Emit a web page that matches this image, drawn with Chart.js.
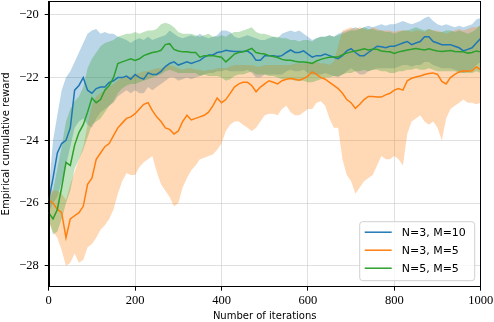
<!DOCTYPE html>
<html><head><meta charset="utf-8">
<script src="https://cdn.jsdelivr.net/npm/chart.js@4/dist/chart.umd.min.js"></script>
<style>html,body{margin:0;padding:0;background:#fff}#wrap{width:494px;height:322px;position:relative}</style>
</head><body><div id="wrap"><canvas id="c" width="494" height="322"></canvas></div>
<script>
const iterations = [0,10,20,30,40,50,60,70,80,90,100,110,120,130,140,150,160,170,180,190,200,210,220,230,240,250,260,270,280,290,300,310,320,330,340,350,360,370,380,390,400,410,420,430,440,450,460,470,480,490,500,510,520,530,540,550,560,570,580,590,600,610,620,630,640,650,660,670,680,690,700,710,720,730,740,750,760,770,780,790,800,810,820,830,840,850,860,870,880,890,900,910,920,930,940,950,960,970,980,990,1000];
const xTicks = [0,200,400,600,800,1000];
const yTicks = [-28,-26,-24,-22,-20];
const seriesNames = ["N=3, M=10","N=3, M=5","N=5, M=5"];

const blueMean = [-25.9,-25.2,-24.4,-24.1,-24.0,-23.6,-22.4,-22.25,-22.0,-22.4,
 -22.5,-22.35,-22.3,-22.3,-22.15,-22.1,-22.0,-22.0,-21.95,-22.05,
 -21.9,-22.0,-22.05,-21.85,-21.9,-21.9,-21.8,-21.65,-21.55,-21.5,
 -21.6,-21.55,-21.5,-21.55,-21.5,-21.45,-21.35,-21.28,-21.28,-21.2,
 -21.18,-21.13,-21.15,-21.17,-21.17,-21.17,-21.15,-21.25,-21.45,-21.45,
 -21.3,-21.3,-21.3,-21.33,-21.3,-21.2,-21.12,-21.2,-21.2,-21.15,
 -21.25,-21.35,-21.3,-21.3,-21.25,-21.3,-21.35,-21.4,-21.3,-21.15,
 -21.08,-21.2,-21.3,-21.3,-21.2,-21.1,-21.0,-21.02,-21.05,-21.0,
 -21.0,-20.95,-20.9,-20.85,-20.95,-20.9,-20.85,-20.7,-20.7,-20.85,
 -20.9,-20.95,-20.95,-20.95,-21.0,-21.05,-21.15,-21.1,-21.05,-20.9,
 -20.75];
const blueUpper = [-25.6,-24.0,-23.2,-22.4,-22.0,-21.8,-21.5,-21.2,-20.9,-20.6,
 -20.5,-20.45,-20.6,-20.55,-20.6,-20.6,-20.7,-20.75,-20.8,-20.9,
 -20.8,-20.75,-20.8,-20.7,-20.8,-20.75,-20.7,-20.65,-20.5,-20.6,
 -20.7,-20.75,-20.7,-20.65,-20.7,-20.6,-20.7,-20.75,-20.7,-20.65,
 -20.5,-20.5,-20.55,-20.7,-20.75,-20.7,-20.65,-20.7,-20.75,-20.8,
 -20.8,-20.75,-20.7,-20.75,-20.6,-20.55,-20.5,-20.55,-20.5,-20.6,
 -20.7,-20.8,-20.75,-20.7,-20.7,-20.65,-20.7,-20.6,-20.55,-20.5,
 -20.45,-20.4,-20.45,-20.4,-20.35,-20.4,-20.35,-20.3,-20.35,-20.3,
 -20.3,-20.25,-20.2,-20.25,-20.3,-20.25,-20.2,-20.1,-20.05,-20.2,
 -20.3,-20.35,-20.3,-20.35,-20.4,-20.35,-20.4,-20.35,-20.3,-20.15,
 -20.1];
const blueLower = [-26.3,-26.0,-25.8,-25.3,-24.8,-24.2,-23.6,-23.4,-23.3,-23.5,
 -23.6,-23.3,-23.1,-23.0,-22.9,-22.8,-22.6,-22.5,-22.4,-22.5,
 -22.4,-22.5,-22.5,-22.3,-22.4,-22.3,-22.2,-22.1,-22.0,-22.0,
 -22.1,-22.05,-22.0,-22.05,-22.0,-21.95,-21.9,-21.85,-21.85,-21.8,
 -21.8,-21.75,-21.8,-21.8,-21.8,-21.8,-21.75,-21.85,-22.0,-22.0,
 -21.9,-21.9,-21.9,-21.9,-21.9,-21.8,-21.75,-21.8,-21.8,-21.75,
 -21.85,-21.9,-21.9,-21.9,-21.85,-21.9,-21.95,-22.0,-21.9,-21.8,
 -21.7,-21.8,-21.9,-21.9,-21.8,-21.75,-21.7,-21.7,-21.7,-21.7,
 -21.7,-21.65,-21.6,-21.6,-21.65,-21.6,-21.6,-21.5,-21.5,-21.6,
 -21.65,-21.7,-21.7,-21.7,-21.75,-21.8,-21.85,-21.8,-21.75,-21.6,
 -21.5];

const orangeMean = [-25.9,-26.0,-26.2,-26.3,-27.1,-26.5,-26.4,-26.3,-26.1,-25.4,
 -25.2,-24.6,-24.4,-24.2,-24.1,-23.85,-23.6,-23.45,-23.3,-23.25,
 -23.15,-23.0,-22.85,-22.8,-23.05,-23.25,-23.4,-23.6,-23.65,-23.8,
 -23.7,-23.4,-23.2,-23.35,-23.3,-23.25,-23.2,-23.1,-22.9,-22.65,
 -22.8,-22.7,-22.5,-22.3,-22.2,-22.15,-22.15,-22.25,-22.45,-22.3,
 -22.2,-22.1,-22.15,-22.2,-22.1,-22.05,-22.03,-22.05,-22.08,-22.03,
 -21.95,-21.82,-21.9,-22.0,-22.05,-22.15,-22.25,-22.35,-22.5,-22.7,
 -22.8,-22.98,-22.85,-22.7,-22.6,-22.6,-22.62,-22.62,-22.55,-22.5,
 -22.4,-22.35,-22.4,-22.1,-22.02,-21.98,-21.95,-21.9,-21.87,-21.85,
 -21.9,-22.12,-22.2,-22.0,-21.9,-21.82,-21.78,-21.8,-21.78,-21.66,
 -21.75];
const orangeUpper = [-25.5,-25.6,-25.6,-25.7,-25.9,-25.4,-25.0,-24.6,-24.2,-23.5,
 -22.9,-22.6,-22.5,-22.4,-22.3,-22.2,-22.1,-22.0,-22.0,-21.95,
 -21.9,-21.85,-21.8,-21.8,-21.75,-21.7,-21.7,-21.65,-21.6,-21.65,
 -21.7,-21.75,-21.7,-21.7,-21.75,-21.75,-21.8,-21.75,-21.75,-21.7,
 -21.7,-21.7,-21.65,-21.6,-21.6,-21.6,-21.6,-21.6,-21.65,-21.65,
 -21.6,-21.6,-21.6,-21.6,-21.6,-21.6,-21.6,-21.55,-21.55,-21.55,
 -21.5,-21.5,-21.5,-21.55,-21.55,-21.6,-21.5,-21.0,-20.5,-20.45,
 -20.4,-20.45,-20.4,-20.45,-20.5,-20.4,-20.45,-20.5,-20.5,-20.5,
 -20.55,-20.5,-20.5,-20.5,-20.55,-20.5,-20.5,-20.55,-20.45,-20.5,
 -20.5,-20.55,-20.6,-20.55,-20.5,-20.45,-20.5,-20.45,-20.4,-20.4,
 -20.35];
const orangeLower = [-26.6,-26.9,-27.1,-27.5,-28.0,-27.9,-27.6,-27.9,-27.8,-27.4,
 -27.3,-27.1,-26.85,-26.7,-26.5,-26.2,-25.7,-25.3,-25.05,-25.1,
 -25.1,-24.85,-24.7,-24.6,-24.5,-25.0,-25.4,-25.6,-25.8,-26.1,
 -26.0,-25.5,-25.2,-24.95,-24.8,-24.6,-24.55,-24.5,-24.45,-24.3,
 -24.1,-23.7,-23.5,-23.4,-23.4,-23.5,-23.6,-23.7,-23.6,-23.4,
 -23.2,-23.15,-23.15,-23.2,-23.0,-22.9,-23.1,-23.2,-23.2,-23.1,
 -23.0,-23.0,-22.8,-22.75,-22.9,-23.3,-23.6,-23.6,-24.6,-25.1,
 -25.3,-25.7,-25.5,-25.3,-25.2,-25.1,-24.8,-24.5,-24.6,-24.6,
 -24.5,-24.6,-24.8,-23.8,-23.4,-23.3,-23.2,-23.4,-23.5,-23.4,
 -23.6,-24.0,-23.3,-23.0,-22.9,-22.8,-22.7,-22.8,-22.8,-22.85,
 -22.8];

const greenMean = [-26.3,-26.5,-26.2,-25.5,-24.7,-24.8,-24.15,-23.75,-23.5,-23.1,
 -22.65,-22.8,-22.7,-22.4,-22.25,-22.0,-21.55,-21.5,-21.45,-21.4,
 -21.45,-21.4,-21.3,-21.25,-21.2,-21.18,-21.13,-20.95,-20.92,-21.1,
 -21.15,-21.18,-21.18,-21.2,-21.2,-21.35,-21.3,-21.3,-21.3,-21.33,
 -21.35,-21.5,-21.38,-21.25,-21.2,-21.18,-21.13,-21.07,-21.2,-21.23,
 -21.25,-21.3,-21.33,-21.36,-21.42,-21.45,-21.45,-21.48,-21.5,-21.5,
 -21.52,-21.55,-21.47,-21.42,-21.38,-21.35,-21.34,-21.34,-21.27,-21.22,
 -21.18,-21.15,-21.12,-21.08,-21.12,-21.1,-21.1,-21.15,-21.17,-21.18,
 -21.23,-21.18,-21.15,-21.12,-21.1,-21.07,-21.1,-21.12,-21.08,-21.12,
 -21.15,-21.17,-21.15,-21.14,-21.17,-21.18,-21.18,-21.22,-21.2,-21.15,
 -21.18];
const greenUpper = [-25.9,-25.6,-24.9,-24.2,-23.4,-23.0,-22.75,-22.6,-22.3,-21.7,
 -21.4,-21.2,-21.0,-20.9,-20.85,-20.8,-20.7,-20.65,-20.6,-20.6,
 -20.55,-20.6,-20.55,-20.5,-20.5,-20.45,-20.3,-20.25,-20.3,-20.4,
 -20.55,-20.6,-20.6,-20.6,-20.65,-20.7,-20.65,-20.6,-20.7,-20.7,
 -20.65,-20.7,-20.6,-20.55,-20.55,-20.5,-20.45,-20.4,-20.55,-20.6,
 -20.6,-20.65,-20.7,-20.7,-20.75,-20.75,-20.8,-20.8,-20.85,-20.8,
 -20.8,-20.85,-20.75,-20.7,-20.7,-20.65,-20.7,-20.65,-20.6,-20.55,
 -20.5,-20.5,-20.45,-20.4,-20.45,-20.45,-20.5,-20.5,-20.55,-20.55,
 -20.6,-20.55,-20.5,-20.5,-20.45,-20.4,-20.45,-20.5,-20.45,-20.5,
 -20.55,-20.55,-20.5,-20.5,-20.55,-20.5,-20.55,-20.6,-20.55,-20.45,
 -20.3];
const greenLower = [-26.5,-27.0,-26.9,-26.5,-26.0,-25.6,-24.9,-24.6,-24.3,-23.9,
 -23.5,-23.4,-23.3,-23.1,-22.9,-22.75,-22.5,-22.35,-22.25,-22.2,
 -22.2,-22.15,-22.1,-22.05,-22.0,-21.95,-21.9,-21.8,-21.75,-21.8,
 -21.85,-21.85,-21.85,-21.85,-21.85,-21.95,-21.9,-21.95,-21.95,-21.95,
 -22.0,-22.1,-22.05,-21.95,-21.9,-21.9,-21.85,-21.8,-21.9,-21.9,
 -21.9,-21.95,-21.95,-22.0,-22.05,-22.05,-22.05,-22.1,-22.1,-22.1,
 -22.15,-22.15,-22.1,-22.05,-22.0,-22.0,-21.95,-21.95,-21.9,-21.85,
 -21.85,-21.8,-21.8,-21.75,-21.8,-21.75,-21.75,-21.8,-21.8,-21.85,
 -21.85,-21.8,-21.8,-21.75,-21.75,-21.7,-21.75,-21.75,-21.7,-21.75,
 -21.8,-21.8,-21.8,-21.8,-21.8,-21.85,-21.85,-21.85,-21.85,-21.8,
 -21.85];

const colors = ["#1f77b4","#ff7f0e","#2ca02c"];
const fills = ["rgba(31,119,180,0.3)","rgba(255,127,14,0.3)","rgba(44,160,44,0.3)"];

function pts(arr){ return arr.map((v,i)=>({x: iterations[i], y: v})); }

const means = [blueMean, orangeMean, greenMean];
const uppers = [blueUpper, orangeUpper, greenUpper];
const lowers = [blueLower, orangeLower, greenLower];

const datasets = [];
for (let s = 0; s < 3; s++) {
  datasets.push({label: seriesNames[s]+" band", data: pts(uppers[s]), fill: '+1', backgroundColor: fills[s], borderColor: 'transparent', borderWidth: 0, pointRadius: 0, tension: 0, order: 20 - s});
  datasets.push({label: seriesNames[s]+" low", data: pts(lowers[s]), fill: false, borderColor: 'transparent', borderWidth: 0, pointRadius: 0, tension: 0, order: 20 - s});
}
for (let s = 0; s < 3; s++) {
  datasets.push({label: seriesNames[s], data: pts(means[s]), fill: false, borderColor: colors[s], backgroundColor: colors[s], borderWidth: 1.5, pointRadius: 0, tension: 0, order: 5 - s});
}

const minusFmt = v => v < 0 ? '\u2212' + Math.abs(v) : String(v);

const framePlugin = {
  id: 'frame',
  afterDatasetsDraw(chart) {
    const a = chart.chartArea, ctx = chart.ctx;
    ctx.save();
    ctx.strokeStyle = '#000'; ctx.lineWidth = 1;
    ctx.strokeRect(Math.round(a.left) + 0.5, Math.round(a.top) + 0.5, Math.round(a.right - a.left) - 1, Math.round(a.bottom - a.top) - 1);
    ctx.restore();
  }
};

const legendPlugin = {
  id: 'boxLegend',
  afterDraw(chart) {
    const a = chart.chartArea, ctx = chart.ctx;
    const w = 115, h = 59;
    const x0 = a.right - 6 - w, y0 = a.bottom - 6 - h;
    ctx.save();
    ctx.beginPath();
    const r = 3;
    ctx.moveTo(x0 + r, y0); ctx.lineTo(x0 + w - r, y0); ctx.quadraticCurveTo(x0 + w, y0, x0 + w, y0 + r);
    ctx.lineTo(x0 + w, y0 + h - r); ctx.quadraticCurveTo(x0 + w, y0 + h, x0 + w - r, y0 + h);
    ctx.lineTo(x0 + r, y0 + h); ctx.quadraticCurveTo(x0, y0 + h, x0, y0 + h - r);
    ctx.lineTo(x0, y0 + r); ctx.quadraticCurveTo(x0, y0, x0 + r, y0);
    ctx.closePath();
    ctx.fillStyle = 'rgba(255,255,255,0.8)'; ctx.fill();
    ctx.strokeStyle = '#d0d0d0'; ctx.lineWidth = 1; ctx.stroke();
    ctx.font = '11px "DejaVu Sans"';
    ctx.textBaseline = 'middle';
    ctx.fillStyle = '#000';
    for (let s = 0; s < 3; s++) {
      const yy = y0 + 10.5 + s * 18;
      ctx.strokeStyle = colors[s]; ctx.lineWidth = 1.5;
      ctx.beginPath(); ctx.moveTo(x0 + 5, yy); ctx.lineTo(x0 + 32, yy); ctx.stroke();
      ctx.fillText(seriesNames[s], x0 + 42, yy + 0.5);
    }
    ctx.restore();
  }
};

new Chart(document.getElementById('c'), {
  type: 'line',
  data: { datasets },
  options: {
    responsive: false, animation: false, devicePixelRatio: 1,
    layout: { padding: { top: 1, right: 13.3, left: 0, bottom: 0 } },
    plugins: { legend: { display: false }, tooltip: { enabled: false } },
    elements: { line: { borderCapStyle: 'butt' } },
    scales: {
      x: {
        type: 'linear', min: 0, max: 1000,
        afterBuildTicks: sc => { sc.ticks = xTicks.map(v => ({value: v})); },
        afterFit: sc => { sc.height = 35.3; sc.paddingLeft = 0; sc.paddingRight = 0; },
        grid: { color: 'rgba(200,200,200,0.7)', lineWidth: 0.8, tickLength: 4, tickColor: '#000', tickWidth: 1 },
        border: { color: '#000', width: 1 },
        ticks: { font: { family: 'Liberation Serif', size: 12.5 }, color: '#000', padding: 3, maxRotation: 0, callback: v => minusFmt(v) },
        title: { display: true, text: 'Number of iterations', font: { family: 'DejaVu Sans', size: 10 }, color: '#000', padding: { top: 0, bottom: 0 } }
      },
      y: {
        type: 'linear', min: -28.66, max: -19.56,
        afterBuildTicks: sc => { sc.ticks = yTicks.map(v => ({value: v})); },
        afterFit: sc => { sc.width = 48.7; sc.paddingTop = 0; sc.paddingBottom = 0; },
        grid: { color: 'rgba(200,200,200,0.7)', lineWidth: 0.8, tickLength: 4, tickColor: '#000', tickWidth: 1 },
        border: { color: '#000', width: 1 },
        ticks: { font: { family: 'Liberation Serif', size: 12.5 }, color: '#000', padding: 6, callback: v => minusFmt(v) },
        title: { display: true, text: 'Empirical cumulative reward', font: { family: 'DejaVu Sans', size: 10 }, color: '#000', padding: { top: 0, bottom: 0 } }
      }
    }
  },
  plugins: [framePlugin, legendPlugin]
});
</script></body></html>
